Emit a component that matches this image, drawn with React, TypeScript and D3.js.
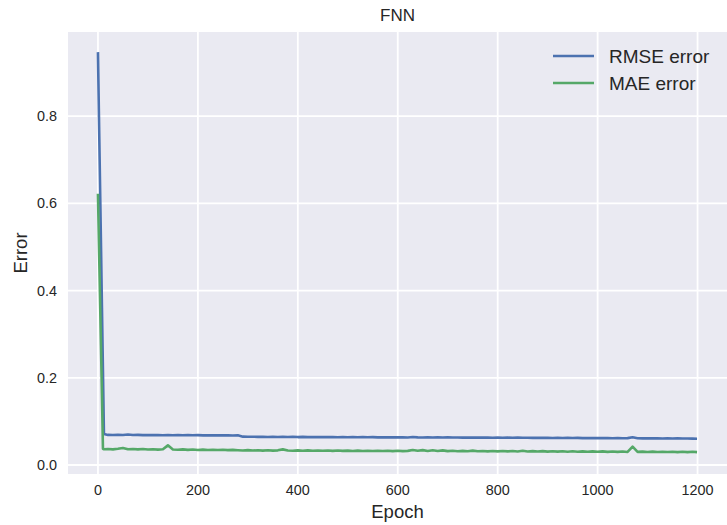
import * as d3 from "d3";

// epochs sampled from the training log (head = steep drop, tail = plateau)
const headEpochs = [0, 2, 4, 6, 8, 10, 12];
const tailEpochs = d3.range(20, 1200, 10).concat([1199]);
const epochs = headEpochs.concat(tailEpochs);

const rmseError = [
  0.947, 0.8, 0.655, 0.51, 0.36, 0.215, 0.071,
  0.069, 0.0686, 0.0693, 0.0688, 0.07, 0.0687, 0.069, 0.0684, 0.0689, 0.0685,
  0.0688, 0.0683, 0.0687, 0.0682, 0.0686, 0.0681, 0.0685, 0.0682, 0.0684, 0.068,
  0.0683, 0.0679, 0.0682, 0.0678, 0.0681, 0.0677, 0.068, 0.065, 0.0646, 0.0649,
  0.0644, 0.0648, 0.0643, 0.0647, 0.0642, 0.0646, 0.0641, 0.0645, 0.064, 0.0644,
  0.064, 0.0643, 0.0639, 0.0642, 0.0638, 0.0641, 0.0637, 0.064, 0.0636, 0.0639,
  0.0636, 0.0639, 0.0635, 0.0638, 0.0634, 0.0637, 0.0634, 0.0636, 0.0633, 0.0636,
  0.0632, 0.0642, 0.0634, 0.0631, 0.0635, 0.0631, 0.0634, 0.063, 0.0633, 0.0629,
  0.0632, 0.0628, 0.0631, 0.0627, 0.063, 0.0627, 0.0629, 0.0626, 0.0629, 0.0625,
  0.0628, 0.0624, 0.0627, 0.0623, 0.0626, 0.0622, 0.0625, 0.0621, 0.0624, 0.062,
  0.0623, 0.0619, 0.0622, 0.0618, 0.0621, 0.0617, 0.062, 0.0616, 0.0619, 0.0615,
  0.0618, 0.0614, 0.0617, 0.0613, 0.0616, 0.0635, 0.0614, 0.0611, 0.0614, 0.061,
  0.0613, 0.0609, 0.0612, 0.0607, 0.061, 0.0606, 0.0608, 0.0604,
  0.0602,
];

const maeError = [
  0.622, 0.505, 0.39, 0.275, 0.16, 0.037, 0.036,
  0.0365, 0.0358, 0.0372, 0.039, 0.036, 0.0366, 0.0357, 0.0368, 0.0355, 0.0362,
  0.0352, 0.036, 0.045, 0.0355, 0.0348, 0.0358, 0.0346, 0.0354, 0.0345, 0.0352,
  0.0343, 0.035, 0.0342, 0.0349, 0.034, 0.0347, 0.0339, 0.0333, 0.034, 0.0331,
  0.0338, 0.033, 0.0337, 0.0329, 0.0336, 0.0358, 0.0332, 0.0328, 0.0335, 0.0327,
  0.0334, 0.0326, 0.0333, 0.0325, 0.0332, 0.0324, 0.0331, 0.0323, 0.033, 0.0322,
  0.0329, 0.0321, 0.0328, 0.032, 0.0327, 0.0319, 0.0326, 0.0318, 0.0325, 0.0317,
  0.0324, 0.0345, 0.0328, 0.034, 0.0322, 0.0338, 0.032, 0.0335, 0.0318, 0.0326,
  0.0316, 0.0324, 0.0315, 0.033, 0.0314, 0.0322, 0.0313, 0.0321, 0.0312, 0.032,
  0.0311, 0.0319, 0.031, 0.0326, 0.0309, 0.0318, 0.0308, 0.0317, 0.0307, 0.0316,
  0.0306, 0.0315, 0.0305, 0.0314, 0.0304, 0.0313, 0.0303, 0.0312, 0.0302, 0.0311,
  0.0301, 0.031, 0.03, 0.0309, 0.0299, 0.042, 0.03, 0.0307, 0.0298, 0.0306,
  0.0297, 0.0305, 0.0296, 0.0304, 0.0295, 0.0303, 0.0294, 0.0302,
  0.0295,
];

const xTicks = [0, 200, 400, 600, 800, 1000, 1200];
const yTicks = [0.0, 0.2, 0.4, 0.6, 0.8];

const series = [
  { name: "RMSE error", values: rmseError, color: "#4C72B0" },
  { name: "MAE error", values: maeError, color: "#55A868" },
];

const width = 727;
const height = 525;
const margin = { top: 32, right: 0, bottom: 51, left: 68 };
const font = "'Liberation Sans', Arial, sans-serif";

export default function App() {
  const x = d3
    .scaleLinear()
    .domain([-59.95, 1258.95])
    .range([margin.left, width - margin.right]);
  const y = d3
    .scaleLinear()
    .domain([-0.0207, 0.9932])
    .range([height - margin.bottom, margin.top]);

  const line = (vals: number[]) =>
    d3
      .line<number>()
      .x((_, i) => x(epochs[i]))
      .y((v) => y(v))(vals) || "";

  return (
    <svg
      width={width}
      height={height}
      style={{ position: "absolute", left: 0, top: 0, background: "#fff" }}
      fontFamily={font}
    >
      <rect
        x={margin.left}
        y={margin.top}
        width={width - margin.left - margin.right}
        height={height - margin.top - margin.bottom}
        fill="#EAEAF2"
      />
      <g stroke="#fff" strokeWidth={1.8}>
        {xTicks.map((t) => (
          <line key={"gx" + t} x1={x(t)} x2={x(t)} y1={margin.top} y2={height - margin.bottom} />
        ))}
        {yTicks.map((t) => (
          <line key={"gy" + t} x1={margin.left} x2={width - margin.right} y1={y(t)} y2={y(t)} />
        ))}
      </g>
      {series.map((s) => (
        <path
          key={s.name}
          d={line(s.values)}
          fill="none"
          stroke={s.color}
          strokeWidth={2.6}
          strokeLinejoin="round"
          strokeLinecap="butt"
        />
      ))}
      <g fontSize={14.4} fill="#262626">
        {xTicks.map((t) => (
          <text key={"tx" + t} x={x(t)} y={495} textAnchor="middle">
            {t}
          </text>
        ))}
        {yTicks.map((t) => (
          <text key={"ty" + t} x={57} y={y(t) + 5} textAnchor="end">
            {t.toFixed(1)}
          </text>
        ))}
      </g>
      <text x={(margin.left + width) / 2} y={21} textAnchor="middle" fontSize={17} fill="#262626">
        FNN
      </text>
      <text x={(margin.left + width) / 2} y={518} textAnchor="middle" fontSize={18.5} fill="#262626">
        Epoch
      </text>
      <text
        transform={`translate(27,${(margin.top + height - margin.bottom) / 2}) rotate(-90)`}
        textAnchor="middle"
        fontSize={18.5}
        fill="#262626"
      >
        Error
      </text>
      <g>
        {series.map((s, i) => (
          <g key={s.name} transform={`translate(553,${56 + i * 27})`}>
            <line x1={0} x2={41} y1={0} y2={0} stroke={s.color} strokeWidth={2.6} />
            <text x={56} y={7} fontSize={19} fill="#262626">
              {s.name}
            </text>
          </g>
        ))}
      </g>
    </svg>
  );
}
